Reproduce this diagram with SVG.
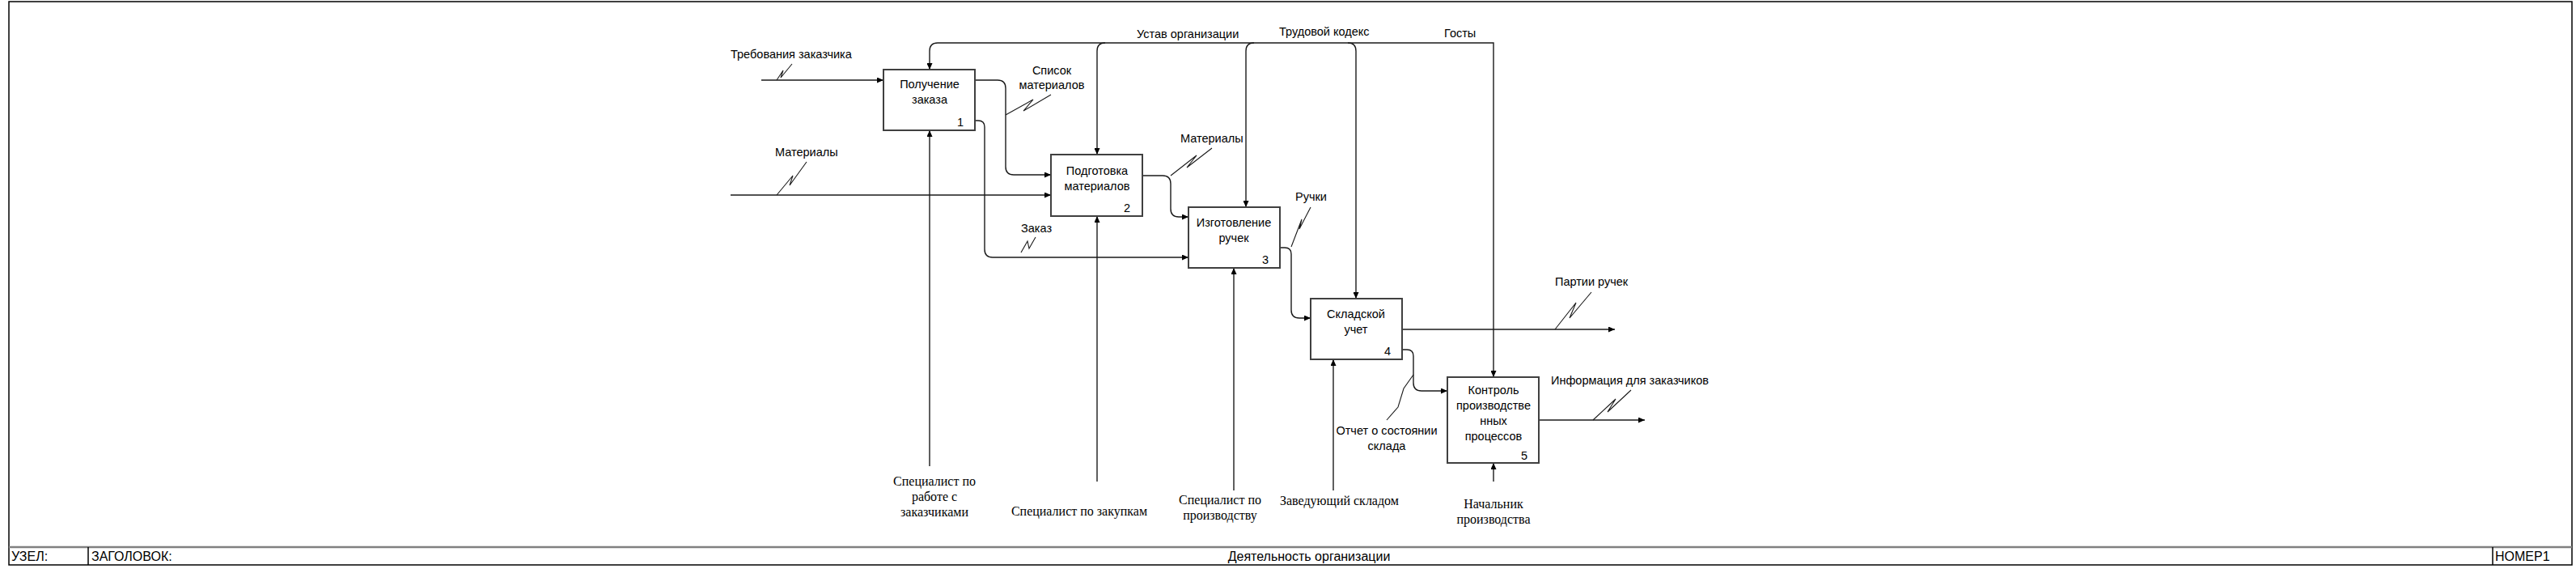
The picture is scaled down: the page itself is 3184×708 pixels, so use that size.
<svg xmlns="http://www.w3.org/2000/svg" width="3184" height="708" viewBox="0 0 3184 708">
<style>
.frame{fill:none;stroke:#000;stroke-width:1.5}
.bar{stroke:#808080;stroke-width:2.5}
.box{fill:#fff;stroke:#404040;stroke-width:2}
.ln{fill:none;stroke:#1a1a1a;stroke-width:1.4}
.sq{fill:none;stroke:#1a1a1a;stroke-width:1.1}
.t{font-family:"Liberation Sans",Arial,sans-serif;font-size:14.5px;fill:#000}
.c{text-anchor:middle}
.s{font-family:"Liberation Serif","Times New Roman",serif;font-size:16px;fill:#000}
.b{font-family:"Liberation Sans",Arial,sans-serif;font-size:16px;fill:#000}
</style>
<defs>
<marker id="ah" markerUnits="userSpaceOnUse" markerWidth="8" markerHeight="7" refX="8" refY="3.5" orient="auto">
<path d="M0,0 L8,3.5 L0,7 z" fill="#000"/>
</marker>
</defs>
<rect width="3184" height="708" fill="#fff"/>
<g id="frame">
<rect class="frame" x="11" y="2" width="3168" height="696"/>
<line class="bar" x1="11" y1="676" x2="3179" y2="676"/>
<line class="frame" x1="109" y1="676" x2="109" y2="698"/>
<line class="frame" x1="3081" y1="676" x2="3081" y2="698"/>
<text class="b" x="14" y="693">УЗЕЛ:</text>
<text class="b" x="113" y="693">ЗАГОЛОВОК:</text>
<text class="b c" x="1618" y="693">Деятельность организации</text>
<text class="b" x="3084" y="693">НОМЕР1</text>
</g>
<g id="connectors">
<path class="ln" d="M941 99 H1092" marker-end="url(#ah)"/>
<path class="ln" d="M903 241 H1299" marker-end="url(#ah)"/>
<path class="ln" d="M1205 99 H1233 Q1243 99 1243 109 V206 Q1243 216 1253 216 H1299" marker-end="url(#ah)"/>
<path class="ln" d="M1205 149 H1209 Q1217 149 1217 157 V308 Q1217 318 1227 318 H1469" marker-end="url(#ah)"/>
<path class="ln" d="M1159 53 H1846 V466" marker-end="url(#ah)"/>
<path class="ln" d="M1159 53 Q1149 53 1149 63 V86" marker-end="url(#ah)"/>
<path class="ln" d="M1366 53 Q1356 53 1356 63 V191" marker-end="url(#ah)"/>
<path class="ln" d="M1550 53 Q1540 53 1540 63 V256" marker-end="url(#ah)"/>
<path class="ln" d="M1666 53 Q1676 53 1676 63 V369" marker-end="url(#ah)"/>
<path class="ln" d="M1412 217 H1437 Q1447 217 1447 227 V258 Q1447 268 1457 268 H1469" marker-end="url(#ah)"/>
<path class="ln" d="M1582 306 H1588 Q1596 306 1596 314 V383 Q1596 393 1606 393 H1620" marker-end="url(#ah)"/>
<path class="ln" d="M1733 407 H1996" marker-end="url(#ah)"/>
<path class="ln" d="M1733 432 H1739 Q1747 432 1747 440 V473 Q1747 483 1757 483 H1789" marker-end="url(#ah)"/>
<path class="ln" d="M1902 519 H2033" marker-end="url(#ah)"/>
<path class="ln" d="M1149 576 V161" marker-end="url(#ah)"/>
<path class="ln" d="M1356 595 V267" marker-end="url(#ah)"/>
<path class="ln" d="M1525 606 V331" marker-end="url(#ah)"/>
<path class="ln" d="M1648 606 V444" marker-end="url(#ah)"/>
<path class="ln" d="M1846 595 V572" marker-end="url(#ah)"/>
<polyline class="sq" points="960,99 968,87 965,96 979,79"/>
<polyline class="sq" points="960,241 980,217 976,229 997,200"/>
<polyline class="sq" points="1243,142 1277,123 1265,137 1299,117"/>
<polyline class="sq" points="1262,312 1270,298 1272,307 1280,293"/>
<polyline class="sq" points="1447,217 1479,192 1467,207 1498,183"/>
<polyline class="sq" points="1596,305 1609,271 1606,283 1620,256"/>
<polyline class="sq" points="1747,463 1735,480 1728,503 1714,519"/>
<polyline class="sq" points="1922,407 1948,374 1940,393 1967,361"/>
<polyline class="sq" points="1969,519 1997,493 1987,509 2016,482"/>
<text class="t" x="903" y="72">Требования заказчика</text>
<text class="t" x="958" y="193">Материалы</text>
<text class="t c" x="1300" y="92">Список</text>
<text class="t c" x="1300" y="110">материалов</text>
<text class="t" x="1262" y="287">Заказ</text>
<text class="t" x="1405" y="47">Устав организации</text>
<text class="t" x="1581" y="44">Трудовой кодекс</text>
<text class="t" x="1785" y="46">Госты</text>
<text class="t" x="1459" y="176">Материалы</text>
<text class="t" x="1601" y="248">Ручки</text>
<text class="t" x="1922" y="353">Партии ручек</text>
<text class="t" x="1917" y="475">Информация для заказчиков</text>
<text class="t c" x="1714" y="537">Отчет о состоянии</text>
<text class="t c" x="1714" y="556">склада</text>
<text class="s c" x="1155" y="600">Специалист по</text>
<text class="s c" x="1155" y="619">работе с</text>
<text class="s c" x="1155" y="638">заказчиками</text>
<text class="s c" x="1334" y="637">Специалист по закупкам</text>
<text class="s c" x="1508" y="623">Специалист по</text>
<text class="s c" x="1508" y="642">производству</text>
<text class="s" x="1582" y="624">Заведующий складом</text>
<text class="s c" x="1846" y="628">Начальник</text>
<text class="s c" x="1846" y="647">производства</text>
</g>
<g id="node1">
<rect class="box" x="1092" y="86" width="113" height="75"/>
<text class="t c" x="1149" y="109">Получение</text>
<text class="t c" x="1149" y="128">заказа</text>
<text class="t c" x="1187" y="156">1</text>
</g>
<g id="node2">
<rect class="box" x="1299" y="191" width="113" height="76"/>
<text class="t c" x="1356" y="216">Подготовка</text>
<text class="t c" x="1356" y="235">материалов</text>
<text class="t c" x="1393" y="262">2</text>
</g>
<g id="node3">
<rect class="box" x="1469" y="256" width="113" height="75"/>
<text class="t c" x="1525" y="280">Изготовление</text>
<text class="t c" x="1525" y="299">ручек</text>
<text class="t c" x="1564" y="326">3</text>
</g>
<g id="node4">
<rect class="box" x="1620" y="369" width="113" height="75"/>
<text class="t c" x="1676" y="393">Складской</text>
<text class="t c" x="1676" y="412">учет</text>
<text class="t c" x="1715" y="439">4</text>
</g>
<g id="node5">
<rect class="box" x="1789" y="466" width="113" height="106"/>
<text class="t c" x="1846" y="487">Контроль</text>
<text class="t c" x="1846" y="506">производстве</text>
<text class="t c" x="1846" y="525">нных</text>
<text class="t c" x="1846" y="544">процессов</text>
<text class="t c" x="1884" y="568">5</text>
</g>
</svg>
